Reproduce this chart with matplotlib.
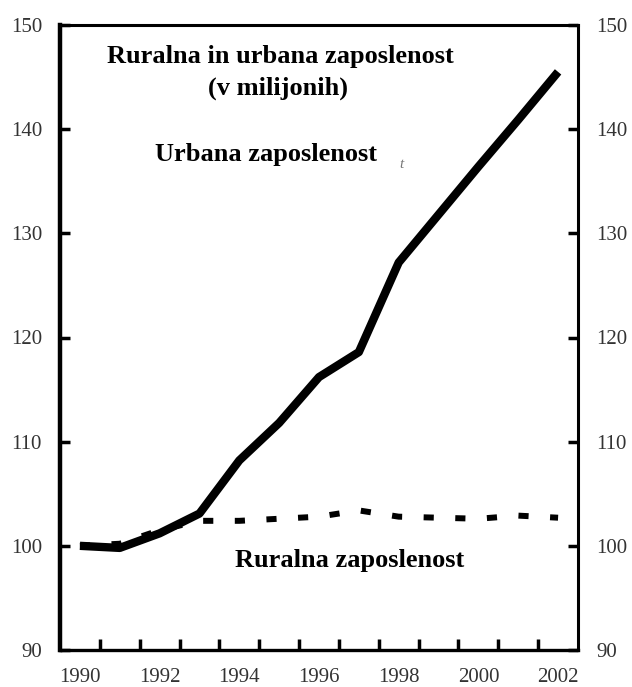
import matplotlib
matplotlib.use("Agg")
import matplotlib.pyplot as plt
from matplotlib.ticker import FixedLocator

years = [1990, 1991, 1992, 1993, 1994, 1995, 1996, 1997, 1998, 1999, 2000, 2001, 2002]
urban = [100.0, 99.8, 101.2, 103.1, 108.2, 111.8, 116.2, 118.6, 127.2, 131.8, 136.4, 140.9, 145.5]
rural = [100.0, 100.2, 101.5, 102.4, 102.4, 102.6, 102.8, 103.4, 102.8, 102.7, 102.6, 102.9, 102.7]
year_labels = ["1990", "1992", "1994", "1996", "1998", "2000", "2002"]
y_ticks = [90, 100, 110, 120, 130, 140, 150]

plt.rcParams['font.family'] = ['Liberation Serif', 'DejaVu Serif']

fig = plt.figure(figsize=(6.32, 6.87), dpi=100)
ax = fig.add_axes([60/632, 1-650/687, 518/632, 625/687])

ax.plot(years, rural, color='black', lw=4.3, linestyle=(0, (1.7, 3.6)), dash_capstyle='butt', zorder=2)
ax.plot(years, urban, color='black', lw=6, solid_capstyle='butt', solid_joinstyle='round', zorder=3)

ax.set_xlim(1989.5, 2002.5)
ax.set_ylim(90, 150)

ax.xaxis.set_major_locator(FixedLocator([int(s) for s in year_labels]))
ax.set_xticklabels(year_labels)
ax.xaxis.set_minor_locator(FixedLocator([y + 0.5 for y in years[:-1]]))
ax.tick_params(axis='x', which='major', length=0, pad=13, labelsize=15, labelcolor='#333333')
ax.tick_params(axis='x', which='minor', direction='in', length=8, width=2.5, color='black')

ax.set_yticks(y_ticks)
ax.tick_params(axis='y', which='major', direction='in', length=7, width=2.5, left=True, right=True,
               labelleft=True, labelright=True, pad=13, labelsize=15, labelcolor='#333333')

for side, lw in [('left', 3.2), ('bottom', 2.4), ('right', 2.2), ('top', 2.2)]:
    ax.spines[side].set_linewidth(lw)
    ax.spines[side].set_color('black')

fig.text(280/632, 1-57/687, "Ruralna in urbana zaposlenost", ha='center', va='center',
         fontsize=19, fontweight='bold')
fig.text(278/632, 1-88/687, "(v milijonih)", ha='center', va='center',
         fontsize=19, fontweight='bold')
fig.text(266/632, 1-154/687, "Urbana zaposlenost", ha='center', va='center',
         fontsize=19, fontweight='bold')
fig.text(350/632, 1-561/687, "Ruralna zaposlenost", ha='center', va='center',
         fontsize=19, fontweight='bold')
fig.text(401/632, 1-165/687, "t", ha='center', va='center', fontsize=11, style='italic', color='#777777')

fig.savefig("out.png", dpi=100)
